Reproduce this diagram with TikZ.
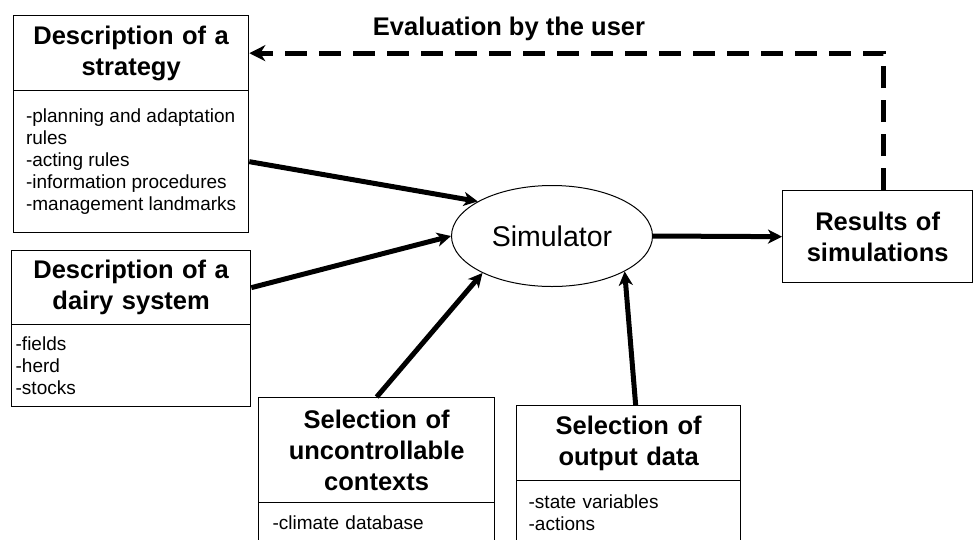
\documentclass[tikz,border=0pt]{standalone}
\usepackage{fontspec}
\setmainfont{Liberation Sans}
\usetikzlibrary{shapes.geometric,arrows.meta}

\begin{document}
\begin{tikzpicture}[x=1pt,y=-1pt,
    headbox/.style={draw,line width=1.3pt,anchor=north west,inner sep=0pt,align=center,
      font=\bfseries\fontsize{25.5}{31}\selectfont},
    listbox/.style={draw,line width=1.3pt,anchor=north west,inner ysep=0pt,align=left,
      font=\fontsize{19}{22}\selectfont},
    feed/.style={line width=5pt,-{Stealth[length=14pt,width=14pt,inset=4pt]}}]
    \clip (0,0) rectangle (973,539);
    % strategy
    \node[headbox,minimum width=235pt,minimum height=75pt,text width=235pt] (shead) at (13,15) {Description of a\\strategy};
    \node[listbox,minimum width=235pt,minimum height=142pt,inner xsep=0pt] (slist) at (13,90)
      {-planning and adaptation\\rules\\-acting rules\\-information procedures\\-management landmarks};
    % dairy system
    \node[headbox,minimum width=239pt,minimum height=74pt,text width=239pt] (dhead) at (11,250) {Description of a\\dairy system};
    \node[listbox,minimum width=239pt,minimum height=82pt,inner xsep=4pt,text width=231pt] (dlist) at (11,324)
      {-fields\\-herd\\-stocks};
    % uncontrollable contexts
    \node[headbox,minimum width=236pt,minimum height=105pt,text width=236pt] (uhead) at (258,397) {Selection of\\uncontrollable\\contexts};
    \node[listbox,minimum width=236pt,minimum height=40pt,inner xsep=14pt,text width=208pt] (ulist) at (258,502)
      {-climate database};
    % output data
    \node[headbox,minimum width=224pt,minimum height=75pt,text width=224pt] (ohead) at (516,405) {Selection of\\output data};
    \node[listbox,minimum width=224pt,minimum height=65pt,inner xsep=12pt,text width=200pt] (olist) at (516,480)
      {-state variables\\-actions};
    % simulator and results
    \node[ellipse,draw,line width=1pt,minimum width=201pt,minimum height=101pt,inner sep=0pt,
      font=\fontsize{28.5}{34}\selectfont] (sim) at (552,236) {Simulator};
    \node[headbox,minimum width=190pt,minimum height=92pt,text width=190pt] (res) at (782,190) {Results of\\simulations};
    \node[font=\bfseries\fontsize{25.5}{31}\selectfont,anchor=base] (evl) at (509,35) {Evaluation by the user};
    % connectors
    \draw[feed] (slist.east) -- (sim.155);
    \draw[feed] (dhead.east) -- (sim.west);
    \draw[feed] (uhead.north) -- (sim.208);
    \draw[feed] ([xshift=7pt]ohead.north) -- (sim.334);
    \draw[feed] (sim.east) -- (res.west);
    \draw[line width=5pt,dash pattern=on 22pt off 12pt,-{Stealth[length=16pt,width=16pt,inset=5pt]}]
      ([xshift=6pt]res.north) |- (shead.east);
\end{tikzpicture}
\end{document}
